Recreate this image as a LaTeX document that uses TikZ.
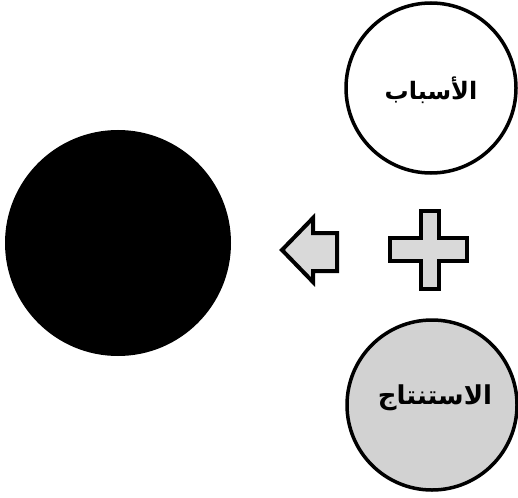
\documentclass[tikz,border=0pt]{standalone}
\usepackage{fontspec}
\newfontfamily\arabicfont[Script=Arabic]{DejaVu Sans}
\TeXXeTstate=1
\begin{document}
\begin{tikzpicture}[x=1pt,y=-1pt,
  ring/.style={circle,draw=black,line width=3.5pt,inner sep=0pt,minimum size=#1},
  shapefill/.style={draw=black,line width=4pt,fill=gray!30,line join=miter},
  label/.style={font=\arabicfont\bfseries\fontsize{24}{28}\selectfont}]
\useasboundingbox (0,0) rectangle (518,497);
\node[ring=170pt,fill=white] (causes) at (431,88) {};
\node[label] (causestext) at (431,90) {\beginR الأسباب\endR};
\node[ring=170pt,fill=gray!35] (result) at (432,405) {};
\node[label,font=\arabicfont\bfseries\fontsize{26}{30}\selectfont] (resulttext) at (435,398) {\beginR الاستنتاج\endR};
\node[circle,fill=black,inner sep=0pt,minimum size=226pt] (whole) at (118,243) {};
\draw[shapefill] (421,211) -- (439,211) -- (439,238) -- (467,238) -- (467,261)
  -- (439,261) -- (439,289) -- (421,289) -- (421,261) -- (390,261) -- (390,238)
  -- (421,238) -- cycle;
\draw[shapefill] (282,250) -- (313,218) -- (313,233) -- (337,233) -- (337,271)
  -- (313,271) -- (313,282) -- cycle;
\end{tikzpicture}
\end{document}
